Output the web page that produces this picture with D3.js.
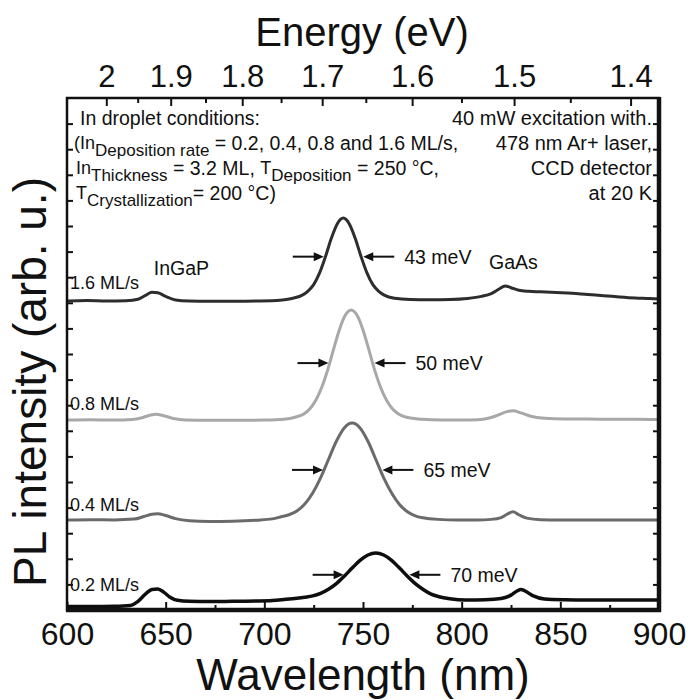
<!DOCTYPE html>
<html>
<head>
<meta charset="utf-8">
<script src="https://cdn.jsdelivr.net/npm/d3@7"></script>
<style>
  html, body { margin: 0; padding: 0; background: #fff; }
  svg { display: block; font-family: "Liberation Sans", Arial, Helvetica, sans-serif; }
</style>
</head>
<body>
<svg id="chart" width="688" height="700"></svg>
<script>
// ---- axes ----
const wavelengthTicks = [600, 650, 700, 750, 800, 850, 900];
const wavelengthMinorTicks = [625, 675, 725, 775, 825, 875];
const energyTicks = [2, 1.9, 1.8, 1.7, 1.6, 1.5, 1.4];
const energyMinorTicks = [1.95, 1.85, 1.75, 1.65, 1.55, 1.45];
const intensityTicks = [1, 2, 3, 4, 5, 6, 7, 8, 9, 10, 11, 12, 13, 14, 15, 16, 17, 18, 19];

// ---- PL spectra (wavelength in nm, intensity in arb. u., offset per rate) ----
const seriesNames = ["1.6 ML/s", "0.8 ML/s", "0.4 ML/s", "0.2 ML/s"];
const fwhmMeV = [43, 50, 65, 70];

const wl16 = [600,610,620,630,636,640,643,646,650,655,662,672,685,698,708,714,719,722,725,728,731,734,737,740,743,746,749,752,755,758,761,766,774,784,794,803,810,815,819,822,825,829,834,840,848,856,864,872,880,888,895,900];
const pl16 = [12.07,12.09,12.07,12.08,12.14,12.30,12.41,12.39,12.25,12.11,12.07,12.06,12.06,12.07,12.10,12.17,12.29,12.45,12.71,13.17,13.81,14.53,15.09,15.31,15.09,14.53,13.81,13.17,12.71,12.45,12.29,12.18,12.13,12.12,12.13,12.17,12.25,12.36,12.54,12.66,12.59,12.49,12.45,12.43,12.40,12.37,12.32,12.28,12.23,12.19,12.17,12.15];

const wl08 = [600,612,624,633,638,642,645,649,654,660,672,686,700,710,716,720,723,726,729,732,735,738,741,744,747,750,753,756,759,762,765,768,772,780,790,800,808,814,819,823,826,830,835,842,852,864,876,888,900];
const pl08 = [7.42,7.43,7.42,7.44,7.51,7.61,7.65,7.59,7.48,7.42,7.41,7.41,7.42,7.45,7.54,7.66,7.85,8.18,8.68,9.35,10.16,10.94,11.51,11.72,11.51,10.94,10.16,9.35,8.68,8.18,7.85,7.66,7.53,7.45,7.42,7.42,7.43,7.50,7.63,7.75,7.78,7.70,7.57,7.49,7.46,7.46,7.45,7.45,7.44];

const wl04 = [600,612,624,634,639,643,646,650,655,662,672,684,696,704,708.5,712.5,716.5,720.5,724.5,728.5,732.5,736.5,740.5,744.5,748.5,752.5,756.5,760.5,764.5,768.5,772.5,776.5,780.5,788,798,808,815,820,823,826,829,833,840,850,862,875,888,900];
const pl04 = [3.52,3.53,3.52,3.55,3.65,3.74,3.76,3.69,3.57,3.49,3.46,3.47,3.51,3.56,3.64,3.72,3.87,4.14,4.57,5.16,5.88,6.59,7.11,7.30,7.11,6.59,5.88,5.16,4.57,4.12,3.84,3.68,3.60,3.54,3.52,3.52,3.54,3.61,3.74,3.84,3.72,3.59,3.53,3.52,3.52,3.52,3.52,3.52];

const wl02 = [600,612,624,632,636,640,643,646,649,652,656,662,672,684,696,704,710,716.5,720.5,724.5,728.5,732.5,736.5,740.5,744.5,748.5,752.5,756.5,760.5,764.5,768.5,772.5,776.5,780.5,784.5,788.5,794,802,812,820,825,828,830,832,836,842,852,864,876,888,900];
const pl02 = [0.14,0.14,0.15,0.18,0.34,0.64,0.80,0.82,0.70,0.51,0.38,0.34,0.33,0.34,0.35,0.37,0.41,0.46,0.50,0.55,0.65,0.81,1.03,1.32,1.64,1.94,2.15,2.23,2.15,1.94,1.64,1.32,1.03,0.80,0.62,0.52,0.44,0.39,0.40,0.45,0.58,0.74,0.80,0.75,0.56,0.43,0.40,0.39,0.39,0.39,0.39];

// feature labels on the top spectrum
const featureNames = ["InGaP", "GaAs"];
const featureWavelengths = [644, 822];

// annotation text
const notesLeft = [
  [{ t: "In droplet conditions:" }],
  [{ t: "(In", k: "pre" }, { t: "Deposition rate", k: "sub" }, { t: " = 0.2, 0.4, 0.8 and 1.6 ML/s," }],
  [{ t: "In", k: "pre" }, { t: "Thickness", k: "sub" }, { t: " = 3.2 ML, " }, { t: "T", k: "pre" }, { t: "Deposition", k: "sub" }, { t: " = 250 °C," }],
  [{ t: "T", k: "pre" }, { t: "Crystallization", k: "sub" }, { t: "= 200 °C)" }]
];
const notesRight = ["40 mW excitation with.", "478 nm Ar+ laser,", "CCD detector", "at 20 K"];

// ---- drawing ----
const HC = 1239.84; // eV·nm
const svg = d3.select("#chart");
const frame = { left: 67, right: 659, top: 98, bottom: 610 };
const ink = "#111";

const x = d3.scaleLinear().domain([600, 900]).range([frame.left, frame.right]);
const y = d3.scaleLinear().domain([0, 20]).range([frame.bottom, frame.top]);

const seriesData = [
  d3.zip(wl16, pl16),
  d3.zip(wl08, pl08),
  d3.zip(wl04, pl04),
  d3.zip(wl02, pl02)
];
const seriesStroke = ["#2d2d2d", "#a8a8a8", "#6b6b6b", "#0e0e0e"];
const seriesWidth = [3, 3, 3, 3.5];

// clip
svg.append("defs").append("clipPath").attr("id", "plotClip")
  .append("rect")
  .attr("x", frame.left).attr("y", frame.top)
  .attr("width", frame.right - frame.left).attr("height", frame.bottom - frame.top);

// axes helpers
function styleAxis(g, fontSize) {
  g.select(".domain").remove();
  g.selectAll(".tick line").attr("stroke", ink).attr("stroke-width", 2);
  g.selectAll(".tick text").attr("fill", ink).attr("font-size", fontSize)
    .attr("font-family", "'Liberation Sans', Arial, sans-serif");
}

// bottom: wavelength
svg.append("g").attr("transform", `translate(0,${frame.bottom})`)
  .call(d3.axisBottom(x).tickValues(wavelengthTicks).tickSizeInner(-8).tickSizeOuter(0)
    .tickPadding(12).tickFormat(d3.format("d")))
  .call(g => styleAxis(g, 32));
svg.append("g").attr("transform", `translate(0,${frame.bottom})`)
  .call(d3.axisBottom(x).tickValues(wavelengthMinorTicks).tickSizeInner(-5).tickSizeOuter(0).tickFormat(""))
  .call(g => styleAxis(g, 0));

// top: photon energy
svg.append("g").attr("transform", `translate(0,${frame.top})`)
  .call(d3.axisTop(x).tickValues(energyTicks.map(e => HC / e)).tickSizeInner(-8).tickSizeOuter(0)
    .tickPadding(11).tickFormat((d, i) => String(energyTicks[i])))
  .call(g => styleAxis(g, 31));
svg.append("g").attr("transform", `translate(0,${frame.top})`)
  .call(d3.axisTop(x).tickValues(energyMinorTicks.map(e => HC / e)).tickSizeInner(-5).tickSizeOuter(0).tickFormat(""))
  .call(g => styleAxis(g, 0));

// left / right intensity ticks
svg.append("g").attr("transform", `translate(${frame.left},0)`)
  .call(d3.axisLeft(y).tickValues(intensityTicks).tickSizeInner(-6).tickSizeOuter(0).tickFormat(""))
  .call(g => styleAxis(g, 0));
svg.append("g").attr("transform", `translate(${frame.right},0)`)
  .call(d3.axisRight(y).tickValues(intensityTicks).tickSizeInner(-6).tickSizeOuter(0).tickFormat(""))
  .call(g => styleAxis(g, 0));

// spectra
const line = d3.line().x(d => x(d[0])).y(d => y(d[1])).curve(d3.curveMonotoneX);
const plot = svg.append("g").attr("clip-path", "url(#plotClip)");
seriesData.forEach((data, i) => {
  plot.append("path").datum(data)
    .attr("fill", "none")
    .attr("stroke", seriesStroke[i])
    .attr("stroke-width", seriesWidth[i])
    .attr("stroke-linejoin", "round")
    .attr("d", line);
});

// series labels
seriesData.forEach((data, i) => {
  const base = d3.median(data, d => d[1]);
  svg.append("text")
    .attr("x", frame.left + 3)
    .attr("y", y(base) - 6)
    .attr("font-size", 18)
    .attr("fill", ink)
    .text(seriesNames[i]);
});

// InGaP / GaAs labels on the top spectrum
const topBase = d3.median(seriesData[0], d => d[1]);
svg.append("text").attr("x", x(featureWavelengths[0])).attr("y", y(topBase) - 20)
  .attr("font-size", 19.5).attr("fill", ink).text(featureNames[0]);
svg.append("text").attr("x", x(featureWavelengths[1]) - 16).attr("y", y(topBase) - 26)
  .attr("font-size", 19.5).attr("fill", ink).text(featureNames[1]);

// FWHM arrows
function arrow(x1, x2, yy) {
  const dir = Math.sign(x2 - x1);
  const headLen = 10, headHalf = 4.5;
  svg.append("line")
    .attr("x1", x1).attr("y1", yy).attr("x2", x2 - dir * headLen * 0.6).attr("y2", yy)
    .attr("stroke", ink).attr("stroke-width", 2);
  svg.append("path")
    .attr("d", `M${x2},${yy} L${x2 - dir * headLen},${yy - headHalf} L${x2 - dir * headLen},${yy + headHalf} Z`)
    .attr("fill", ink);
}
seriesData.forEach((data, i) => {
  const peak = data.reduce((a, b) => (b[1] > a[1] ? b : a));
  const base = d3.median(data, d => d[1]);
  const half = (peak[1] + base) / 2;
  const e0 = HC / peak[0];
  const dE = fwhmMeV[i] / 1000 / 2;
  const xL = x(HC / (e0 + dE));
  const xR = x(HC / (e0 - dE));
  const yy = y(half);
  arrow(xL - 32, xL - 1, yy);
  arrow(xR + 32, xR + 1, yy);
  svg.append("text")
    .attr("x", xR + 42).attr("y", yy + 7)
    .attr("font-size", 19.5).attr("fill", ink)
    .text(`${fwhmMeV[i]} meV`);
});

// growth / measurement notes
const leftX = [80, 74, 76, 76];
const noteBase = [125, 150, 175, 200];
notesLeft.forEach((parts, i) => {
  const t = svg.append("text").attr("x", leftX[i]).attr("y", noteBase[i]).attr("fill", ink);
  parts.forEach(p => {
    const s = t.append("tspan").text(p.t);
    if (p.k === "pre") s.attr("font-size", 18).attr("y", noteBase[i] - 1);
    else if (p.k === "sub") s.attr("font-size", 17).attr("y", noteBase[i] + 6);
    else s.attr("font-size", 19.5).attr("y", noteBase[i]);
  });
});
notesRight.forEach((s, i) => {
  svg.append("text").attr("x", 652).attr("y", noteBase[i])
    .attr("text-anchor", "end").attr("font-size", 20).attr("fill", ink).text(s);
});

// frame
svg.append("rect")
  .attr("x", frame.left).attr("y", frame.top)
  .attr("width", frame.right - frame.left).attr("height", frame.bottom - frame.top)
  .attr("fill", "none").attr("stroke", ink).attr("stroke-width", 2.5);
svg.append("line").attr("x1", frame.right).attr("x2", frame.right)
  .attr("y1", frame.top - 1).attr("y2", frame.bottom + 2)
  .attr("stroke", ink).attr("stroke-width", 4.5);
svg.append("line").attr("x1", frame.left - 1).attr("x2", frame.right + 2)
  .attr("y1", frame.bottom).attr("y2", frame.bottom)
  .attr("stroke", ink).attr("stroke-width", 4.5);

// axis titles
svg.append("text").attr("x", 362).attr("y", 46).attr("text-anchor", "middle")
  .attr("font-size", 40).attr("fill", ink).text("Energy (eV)");
svg.append("text").attr("x", 363).attr("y", 690).attr("text-anchor", "middle")
  .attr("font-size", 44).attr("fill", ink).text("Wavelength (nm)");
svg.append("text").attr("transform", "translate(46,382) rotate(-90)")
  .attr("text-anchor", "middle").attr("font-size", 46).attr("fill", ink)
  .text("PL intensity (arb. u.)");
</script>
</body>
</html>
